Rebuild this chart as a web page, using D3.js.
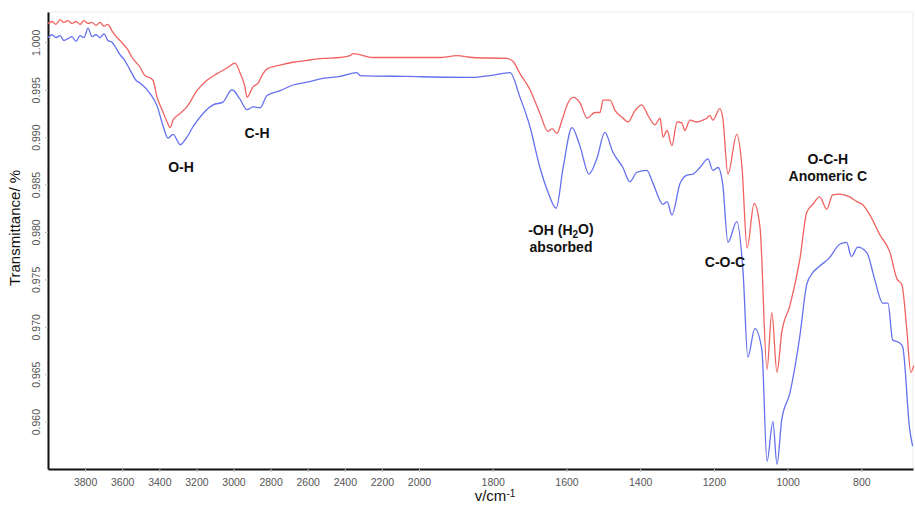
<!DOCTYPE html>
<html>
<head>
<meta charset="utf-8">
<script src="https://cdn.jsdelivr.net/npm/d3@7"></script>
<style>
  html, body { margin: 0; padding: 0; background: #fff; }
  svg { display: block; font-family: Arial, "Liberation Sans", sans-serif; }
</style>
</head>
<body>
<svg id="chart" width="915" height="511"></svg>
<script>
// FTIR spectra: wavenumber (cm-1) and transmittance for two samples
const wavenumberRed = [4000,3978,3957,3935,3914,3892,3871,3849,3827,3806,3784,3763,3741,3720,3698,3677,3655,3633,3612,3590,3569,3547,3526,3504,3482,3434,3412,3385,3358,3342,3326,3288,3251,3197,3143,3089,3035,2992,2965,2938,2927,2895,2868,2841,2819,2749,2679,2604,2517,2426,2372,2356,2248,2065,1943,1897,1854,1761,1745,1726,1699,1672,1650,1639,1626,1612,1596,1582,1563,1544,1523,1509,1501,1482,1468,1449,1433,1414,1396,1379,1360,1346,1338,1327,1314,1300,1287,1279,1265,1246,1230,1219,1211,1203,1184,1176,1162,1138,1124,1110,1091,1075,1056,1043,1029,1016,994,967,948,932,913,894,878,859,832,812,797,777,750,723,704,690,677,666,658];
const transmittanceRed = [1.0020,1.0022,1.0019,1.0024,1.0021,1.0023,1.0020,1.0022,1.0019,1.0023,1.0020,1.0021,1.0018,1.0021,1.0017,1.0019,1.0012,1.0006,1.0002,0.9997,0.9992,0.9984,0.9979,0.9974,0.9966,0.9960,0.9942,0.9929,0.9916,0.9910,0.9918,0.9925,0.9932,0.9949,0.9960,0.9967,0.9973,0.9978,0.9968,0.9953,0.9942,0.9953,0.9957,0.9967,0.9972,0.9976,0.9979,0.9981,0.9983,0.9984,0.9986,0.9988,0.9984,0.9984,0.9984,0.9986,0.9984,0.9983,0.9980,0.9967,0.9950,0.9925,0.9906,0.9909,0.9904,0.9918,0.9936,0.9942,0.9936,0.9920,0.9926,0.9926,0.9939,0.9939,0.9928,0.9921,0.9916,0.9928,0.9934,0.9923,0.9913,0.9920,0.9900,0.9907,0.9891,0.9916,0.9915,0.9907,0.9918,0.9916,0.9918,0.9920,0.9923,0.9918,0.9930,0.9920,0.9861,0.9903,0.9869,0.9783,0.9830,0.9805,0.9655,0.9715,0.9652,0.9694,0.9722,0.9771,0.9821,0.9829,0.9837,0.9824,0.9839,0.9840,0.9837,0.9832,0.9829,0.9818,0.9797,0.9779,0.9751,0.9744,0.9698,0.9652,0.9659];

const wavenumberBlue = [4000,3978,3957,3935,3914,3892,3871,3849,3827,3806,3784,3763,3741,3720,3698,3677,3655,3633,3612,3590,3569,3547,3526,3504,3450,3412,3380,3353,3326,3299,3288,3251,3218,3164,3110,3057,3008,2965,2927,2895,2857,2819,2749,2679,2604,2517,2426,2334,2318,2065,1854,1807,1753,1726,1699,1672,1650,1628,1609,1585,1563,1539,1517,1496,1474,1447,1428,1409,1382,1365,1338,1327,1314,1292,1273,1257,1238,1216,1203,1189,1176,1162,1138,1121,1108,1089,1070,1056,1040,1029,1016,994,967,948,932,913,886,859,840,827,810,785,764,742,728,715,696,688,669,661];
const transmittanceBlue = [1.0005,1.0008,1.0005,1.0007,1.0002,1.0004,1.0006,1.0001,1.0007,1.0005,1.0015,1.0006,1.0008,1.0005,1.0009,1.0002,1.0000,0.9994,0.9987,0.9982,0.9975,0.9967,0.9960,0.9957,0.9946,0.9933,0.9912,0.9899,0.9903,0.9895,0.9892,0.9900,0.9911,0.9925,0.9934,0.9937,0.9950,0.9940,0.9929,0.9932,0.9931,0.9944,0.9949,0.9955,0.9958,0.9962,0.9964,0.9968,0.9965,0.9964,0.9963,0.9965,0.9968,0.9942,0.9911,0.9868,0.9842,0.9825,0.9868,0.9910,0.9890,0.9861,0.9878,0.9905,0.9884,0.9868,0.9853,0.9863,0.9865,0.9851,0.9829,0.9832,0.9818,0.9851,0.9860,0.9861,0.9868,0.9877,0.9865,0.9868,0.9850,0.9789,0.9811,0.9758,0.9668,0.9698,0.9676,0.9558,0.9600,0.9555,0.9602,0.9630,0.9690,0.9745,0.9757,0.9764,0.9773,0.9787,0.9789,0.9774,0.9784,0.9778,0.9750,0.9725,0.9725,0.9686,0.9683,0.9679,0.9592,0.9574];

// Axis ticks (the x axis is compressed above 2000 cm-1)
const xTicks = [3800,3600,3400,3200,3000,2800,2600,2400,2200,2000,1800,1600,1400,1200,1000,800];
const yTicks = [0.960,0.965,0.970,0.975,0.980,0.985,0.990,0.995,1.000];

// Band assignments; each line is a list of [text, isSubscript] runs
const bandLabels = [
  { lines: [[["O-H", false]]], wn: 3283, t: 0.98632 },
  { lines: [[["C-H", false]]], wn: 2873, t: 0.98989 },
  { lines: [[["-OH (H", false], ["2", true], ["O)", false]], [["absorbed", false]]], wn: 1615, t: 0.97968 },
  { lines: [[["C-O-C", false]]], wn: 1170, t: 0.97632 },
  { lines: [[["O-C-H", false]], [["Anomeric C", false]]], wn: 891, t: 0.98716 }
];

const svg = d3.select("#chart");
const x = d3.scaleLinear().domain([4000, 2000, 660]).range([48, 419, 913]);
const y = d3.scaleLinear().domain([0.955, 1.0032]).range([469, 12]);

// faint plot frame
svg.append("rect")
  .attr("x", x(4000)).attr("y", y(1.0032))
  .attr("width", x(660) - x(4000)).attr("height", y(0.955) - y(1.0032))
  .attr("fill", "none").attr("stroke", "#ececec").attr("stroke-width", 1);

// x axis
const gx = svg.append("g").attr("transform", `translate(0,${y(0.955)})`)
  .call(d3.axisBottom(x).tickValues(xTicks).tickFormat(d3.format("d")).tickSize(3).tickSizeOuter(0));
gx.select(".domain").attr("stroke", "#111").attr("stroke-width", 2);
gx.selectAll(".tick line").attr("stroke", "#bbb");
gx.selectAll(".tick text").attr("fill", "#555").attr("font-size", "10.5px").attr("dy", "1.05em");

// y axis
const gy = svg.append("g").attr("transform", `translate(${x(4000)},0)`)
  .call(d3.axisLeft(y).tickValues(yTicks).tickFormat(d3.format(".3f")).tickSize(3).tickSizeOuter(0));
gy.select(".domain").attr("stroke", "#111").attr("stroke-width", 2);
gy.selectAll(".tick line").attr("stroke", "#bbb");
gy.selectAll(".tick text")
  .attr("fill", "#555").attr("font-size", "10.5px")
  .attr("x", null).attr("dy", null)
  .attr("transform", "translate(-8,0) rotate(-90)")
  .attr("text-anchor", "middle");

// spectra
const line = d3.line().x(d => x(d[0])).y(d => y(d[1])).curve(d3.curveMonotoneX);
const red = d3.zip(wavenumberRed, transmittanceRed);
const blue = d3.zip(wavenumberBlue, transmittanceBlue);

svg.append("path").datum(blue).attr("d", line)
  .attr("fill", "none").attr("stroke", "#6470ee").attr("stroke-width", 1.3);
svg.append("path").datum(red).attr("d", line)
  .attr("fill", "none").attr("stroke", "#f0625f").attr("stroke-width", 1.3);

// band labels
bandLabels.forEach(b => {
  b.lines.forEach((runs, i) => {
    const t = svg.append("text")
      .attr("x", x(b.wn)).attr("y", y(b.t) + i * 17)
      .attr("text-anchor", "middle").attr("font-size", "14px")
      .attr("font-weight", "bold").attr("fill", "#111");
    runs.forEach(([s, sub]) => {
      const ts = t.append("tspan").text(s);
      if (sub) ts.attr("font-size", "10px").attr("dy", "0.3em");
      else if (runs.length > 1) ts.attr("dy", t.selectAll("tspan").size() > 1 ? "-0.3em" : null);
    });
  });
});

// axis titles
svg.append("text")
  .attr("transform", `translate(20,228) rotate(-90)`)
  .attr("text-anchor", "middle").attr("font-size", "15px").attr("fill", "#111")
  .text("Transmittance/ %");

const xt = svg.append("text")
  .attr("x", 495).attr("y", 501)
  .attr("text-anchor", "middle").attr("font-size", "15px").attr("fill", "#111");
xt.append("tspan").text("v/cm");
xt.append("tspan").attr("dy", "-0.45em").attr("font-size", "10px").text("-1");
</script>
</body>
</html>
